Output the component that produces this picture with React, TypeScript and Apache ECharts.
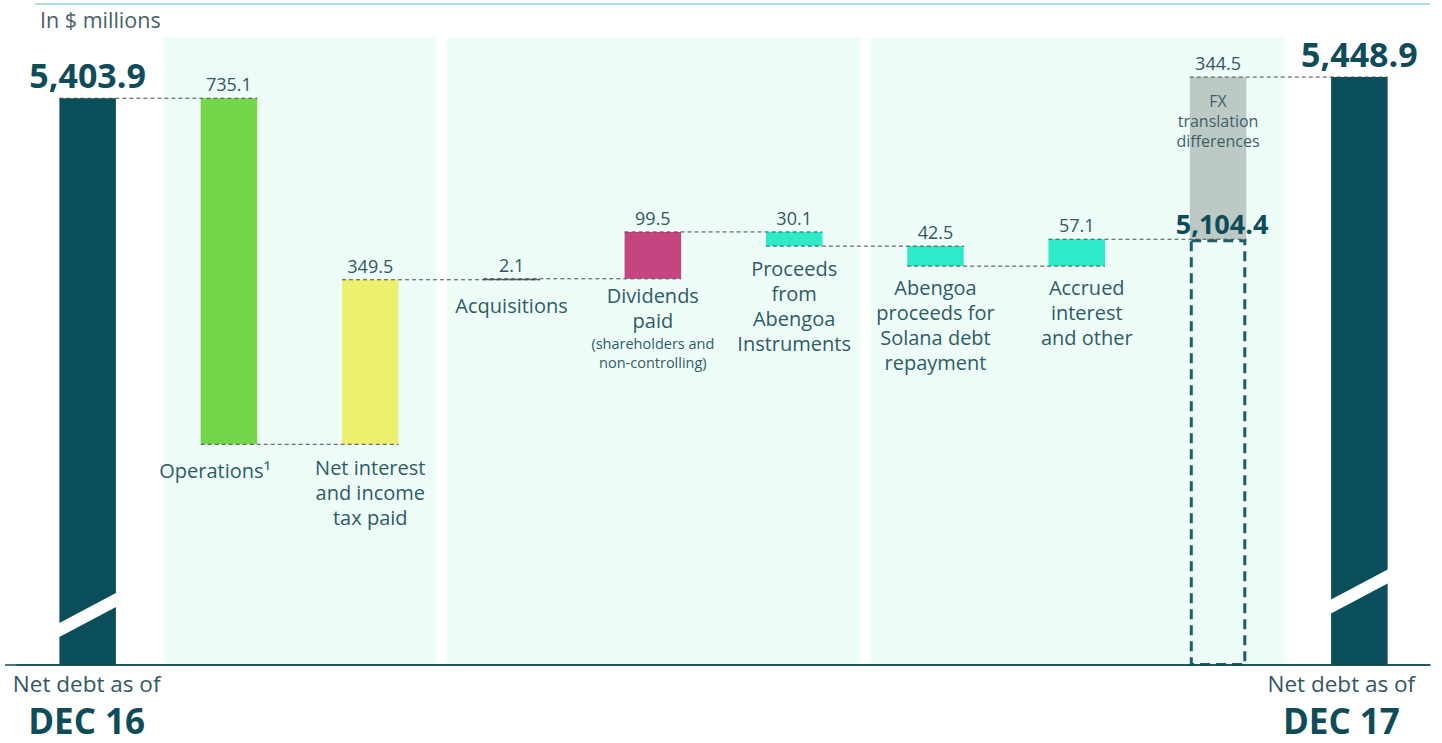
import React, { useEffect, useRef } from 'react';
import * as echarts from 'echarts';

// ---- data ----
const categories = [
  'Net debt as of DEC 16',
  'Operations',
  'Net interest and income tax paid',
  'Acquisitions',
  'Dividends paid',
  'Proceeds from Abengoa Instruments',
  'Abengoa proceeds for Solana debt repayment',
  'Accrued interest and other',
  'FX translation differences',
  'Net debt as of DEC 17',
];
const openingNetDebt = 5403.9;
const closingNetDebt = 5448.9;
const subtotalBeforeFx = 5104.4;
const changes = [-735.1, 349.5, 2.1, 99.5, -30.1, -42.5, 57.1, 344.5];
const changeLabels = ['735.1', '349.5', '2.1', '99.5', '30.1', '42.5', '57.1', '344.5'];
const totalLabels = ['5,403.9', '5,448.9'];
const subtotalLabel = '5,104.4';
const categoryLines = [
  [],
  ['Operations¹'],
  ['Net interest', 'and income', 'tax paid'],
  ['Acquisitions'],
  ['Dividends', 'paid'],
  ['Proceeds', 'from', 'Abengoa', 'Instruments'],
  ['Abengoa', 'proceeds for', 'Solana debt', 'repayment'],
  ['Accrued', 'interest', 'and other'],
  [],
  [],
];
const dividendsNote = ['(shareholders and', 'non-controlling)'];
const fxLines = ['FX', 'translation', 'differences'];
const totalCaption = 'Net debt as of';
const totalDates = ['DEC 16', 'DEC 17'];
const breakLevels = [4306, 4356];
const axisMin = 4200;
const axisMax = 5534;
const panelGroups = [[1, 2], [3, 5], [6, 8]];

// ---- styles ----
const barColors = ['#0b4e5b', '#74d64b', '#ecf06e', '#5b6d6b', '#c4457f', '#2eeac9', '#2eeac9', '#2eeac9', '#bdc9c5', '#0b4e5b'];
const labelNudge = [[0, 0], [-14, 3], [0, 0], [0, 2], [0, -7], [0, -1], [0, -2], [10, -2], [0, 0], [0, 0]];
const FONT = "'Open Sans', 'Noto Sans', sans-serif";
const DARK = '#0e4c59';
const TEXT = '#35585f';

// ---- derived waterfall levels ----
const levels: number[] = [openingNetDebt];
changes.forEach((c, k) => levels.push(+(levels[k] + c).toFixed(1)));
const barData = categories.map((_, i) => {
  if (i === 0) return [i, axisMin, openingNetDebt];
  if (i === categories.length - 1) return [i, axisMin, closingNetDebt];
  return [i, Math.min(levels[i - 1], levels[i]), Math.max(levels[i - 1], levels[i])];
});
const connectorData = levels.map((l, i) => [i, l]);

export default function App() {
  const ref = useRef<HTMLDivElement>(null);
  useEffect(() => {
    const chart = echarts.init(ref.current!, undefined, { renderer: 'svg' });
    const option: any = {
      animation: false,
      backgroundColor: '#ffffff',
      grid: { left: 17, right: 12, top: 37, bottom: 78, containLabel: false, outerBoundsMode: 'none' },
      xAxis: {
        type: 'category',
        data: categories,
        z: 5,
        axisTick: { show: false },
        axisLine: { lineStyle: { color: DARK, width: 1.5 } },
        axisLabel: { show: false },
      },
      yAxis: { type: 'value', min: axisMin, max: axisMax, show: false, splitLine: { show: false } },
      graphic: [
        { type: 'line', shape: { x1: 35, y1: 4, x2: 1430, y2: 4 }, style: { stroke: '#8fd4ca', lineWidth: 1.5 } },
        { type: 'line', shape: { x1: 5, y1: 665, x2: 1430, y2: 665 }, style: { stroke: DARK, lineWidth: 1.5 }, z: 10 },
        { type: 'text', left: 40, top: 8, style: { text: 'In $ millions', fontFamily: FONT, fontSize: 21.5, fill: '#4a6267' } },
      ],
      series: [
        {
          type: 'custom',
          z: 1,
          silent: true,
          clip: false,
          data: panelGroups,
          renderItem: (params: any, api: any) => {
            const cw = api.size([1, 0])[0];
            const a = api.coord([api.value(0), axisMin]);
            const b = api.coord([api.value(1), axisMin]);
            const x0 = a[0] - cw / 2 + 6;
            const x1 = b[0] + cw / 2 - 5;
            return {
              type: 'rect',
              shape: { x: x0, y: params.coordSys.y, width: x1 - x0, height: params.coordSys.height - 1 },
              style: { fill: '#effdf9' },
            };
          },
        },
        {
          type: 'custom',
          z: 2,
          silent: true,
          clip: false,
          data: barData,
          renderItem: (params: any, api: any) => {
            const i = api.value(0);
            const lo = api.value(1);
            const hi = api.value(2);
            const cw = api.size([1, 0])[0];
            const bw = cw * 0.4;
            const pTop = api.coord([i, hi]);
            const pBot = api.coord([i, lo]);
            const cx = pTop[0];
            const x0 = cx - bw / 2;
            const h = Math.max(pBot[1] - pTop[1], 1.5);
            const children: any[] = [];
            const last = categories.length - 1;
            children.push({
              type: 'rect',
              shape: { x: x0, y: pTop[1], width: bw, height: h },
              style: { fill: barColors[i] },
            });
            if (i === 0 || i === last) {
              const k = i === 0 ? 0 : 1;
              const b = api.coord([i, breakLevels[k]]);
              const cy = b[1];
              children.push({
                type: 'polygon',
                shape: {
                  points: [
                    [x0 - 1, cy + 15.5 - 7],
                    [x0 + bw + 1, cy - 15.5 - 7],
                    [x0 + bw + 1, cy - 15.5 + 7],
                    [x0 - 1, cy + 15.5 + 7],
                  ],
                },
                style: { fill: '#ffffff' },
              });
              children.push({
                type: 'text',
                x: cx,
                y: pTop[1] - 6,
                style: {
                  text: totalLabels[k],
                  fontFamily: FONT, fontSize: 34, fontWeight: 'bold', fill: DARK,
                  align: 'center', verticalAlign: 'bottom',
                },
              });
              const lx = cx - (k === 0 ? 1 : 18);
              children.push({
                type: 'text',
                x: lx,
                y: pBot[1] + 18.5,
                style: {
                  text: totalCaption,
                  fontFamily: FONT, fontSize: 22.5, fill: TEXT,
                  align: 'center', verticalAlign: 'middle',
                },
              });
              children.push({
                type: 'text',
                x: lx,
                y: pBot[1] + 55,
                style: {
                  text: totalDates[k],
                  fontFamily: FONT, fontSize: 35, fontWeight: 'bold', fill: DARK,
                  align: 'center', verticalAlign: 'middle',
                },
              });
            } else {
              children.push({
                type: 'text',
                x: cx,
                y: pTop[1] - 5,
                style: {
                  text: changeLabels[i - 1],
                  fontFamily: FONT, fontSize: 18, fill: TEXT,
                  align: 'center', verticalAlign: 'bottom',
                },
              });
              const lines = categoryLines[i];
              const nudge = labelNudge[i];
              if (lines.length) {
                const ty = pTop[1] + h + 11 + nudge[1];
                children.push({
                  type: 'text',
                  x: cx + nudge[0],
                  y: ty,
                  style: {
                    text: lines.join('\n'),
                    fontFamily: FONT, fontSize: 20, lineHeight: 25, fill: '#2e5c64',
                    align: 'center', verticalAlign: 'top',
                  },
                });
                if (i === 4) {
                  children.push({
                    type: 'text',
                    x: cx,
                    y: ty + lines.length * 25 + 1,
                    style: {
                      text: dividendsNote.join('\n'),
                      fontFamily: FONT, fontSize: 14.5, lineHeight: 19, fill: '#2e5c64',
                      align: 'center', verticalAlign: 'top',
                    },
                  });
                }
              }
              if (i === 8) {
                children.push({
                  type: 'text',
                  x: cx,
                  y: pTop[1] + 14,
                  style: {
                    text: fxLines.join('\n'),
                    fontFamily: FONT, fontSize: 16, lineHeight: 20, fill: '#3d6168',
                    align: 'center', verticalAlign: 'top',
                  },
                });
                const s = api.coord([i, subtotalBeforeFx]);
                const base = api.coord([i, axisMin]);
                children.push({
                  type: 'rect',
                  shape: { x: x0 + 1.5, y: s[1] + 1.5, width: bw - 3, height: base[1] - s[1] - 2 },
                  style: { fill: 'none', stroke: '#1d5e69', lineWidth: 3, lineDash: [10, 6] },
                });
                children.push({
                  type: 'text',
                  x: cx + 4,
                  y: s[1] - 2,
                  style: {
                    text: subtotalLabel,
                    fontFamily: FONT, fontSize: 27, fontWeight: 'bold', fill: DARK,
                    align: 'center', verticalAlign: 'bottom',
                  },
                });
              }
            }
            return { type: 'group', children };
          },
        },
        {
          type: 'custom',
          z: 3,
          silent: true,
          data: connectorData,
          renderItem: (params: any, api: any) => {
            const i = api.value(0);
            const cw = api.size([1, 0])[0];
            const bw = cw * 0.4;
            const p = api.coord([i, api.value(1)]);
            return {
              type: 'line',
              shape: { x1: p[0] - bw / 2, y1: p[1], x2: p[0] + cw + bw / 2, y2: p[1] },
              style: { stroke: '#4a4a4a', lineWidth: 1, lineDash: [4, 3] },
            };
          },
        },
      ],
    };
    chart.setOption(option);
    return () => chart.dispose();
  }, []);
  return <div ref={ref} style={{ position: 'absolute', left: 0, top: 0, width: 1442, height: 743 }} />;
}
